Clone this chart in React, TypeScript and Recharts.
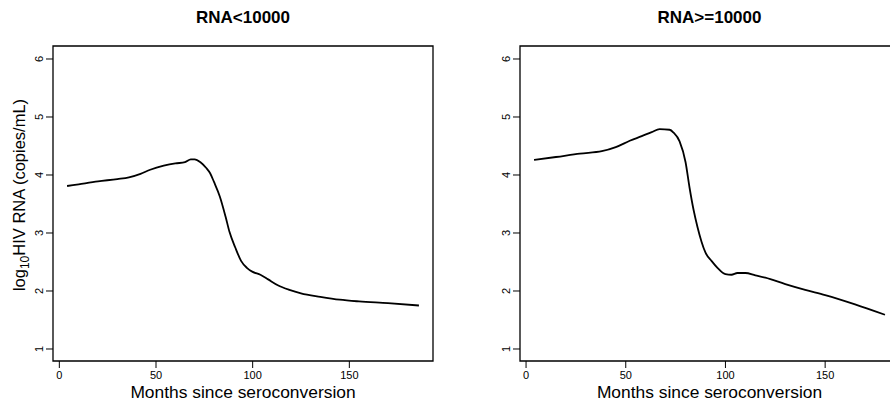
import { CartesianGrid, Line, LineChart, ReferenceArea, XAxis, YAxis } from "recharts";

// months since seroconversion / log10 RNA
const lowMonths = [4, 10, 20, 30, 36, 42, 47, 54, 60, 65, 68, 70, 73, 76, 78, 80, 83, 86, 88, 91, 94, 97, 100, 104, 108, 113, 119, 125, 135, 145, 155, 170, 186];
const lowRna = [3.81, 3.84, 3.89, 3.93, 3.96, 4.02, 4.09, 4.16, 4.2, 4.22, 4.27, 4.27, 4.22, 4.12, 4.03, 3.88, 3.63, 3.28, 3.02, 2.75, 2.52, 2.4, 2.33, 2.28, 2.2, 2.1, 2.02, 1.96, 1.9, 1.85, 1.82, 1.79, 1.75];

const highMonths = [4, 15, 27, 38, 45, 52, 58, 63, 67, 72, 74, 77, 80, 82, 84, 86, 88, 90, 93, 96, 100, 103, 106, 110, 115, 120, 130, 140, 150, 165, 180];
const highRna = [4.26, 4.31, 4.37, 4.41, 4.48, 4.59, 4.67, 4.74, 4.79, 4.78, 4.73, 4.58, 4.22, 3.78, 3.4, 3.1, 2.85, 2.66, 2.52, 2.4, 2.29, 2.28, 2.31, 2.31, 2.27, 2.23, 2.12, 2.02, 1.93, 1.77, 1.59];

const xTicks = [0, 50, 100, 150];
const yTicks = [1, 2, 3, 4, 5, 6];

const FONT = "'Liberation Sans', Arial, Helvetica, sans-serif";
const Y_DOMAIN: [number, number] = [0.793, 6.224];

// R style: 4% padding on the data range
function padDomain(xs: number[]): [number, number] {
  const lo = Math.min(...xs);
  const hi = Math.max(...xs);
  const pad = (hi - lo) * 0.04;
  return [lo - pad, hi + pad];
}

function RotatedTick(props: any) {
  const { x, y, payload } = props;
  return (
    <text
      x={x - 6.5}
      y={y}
      transform={`rotate(-90 ${x - 6.5} ${y})`}
      textAnchor="middle"
      dy="0.35em"
      fontSize={11}
      fontFamily={FONT}
      fill="#000"
    >
      {payload.value}
    </text>
  );
}

type PanelProps = {
  left: number;
  width: number;
  plotLeft: number;
  marginRight: number;
  months: number[];
  rna: number[];
  title: string;
  showYLabel?: boolean;
};

function Panel({ left, width, plotLeft, marginRight, months, rna, title, showYLabel }: PanelProps) {
  const data = months.map((m, i) => ({ m, v: rna[i] }));
  const xDomain = padDomain(months);
  const plotRight = width - marginRight;
  const center = (plotLeft + plotRight) / 2;

  return (
    <div style={{ position: "absolute", left, top: 0, width, height: 403 }}>
      <div
        style={{
          position: "absolute",
          left: center - 100,
          width: 200,
          top: 8,
          textAlign: "center",
          fontFamily: FONT,
          fontWeight: 700,
          fontSize: 17,
          lineHeight: "20px",
        }}
      >
        {title}
      </div>
      <LineChart
        width={width}
        height={403}
        data={data}
        margin={{ top: 46, right: marginRight, left: plotLeft - 20, bottom: 12 }}
      >
        <CartesianGrid stroke="none" />
        <XAxis
          type="number"
          dataKey="m"
          domain={xDomain}
          ticks={xTicks}
          interval={0}
          height={30}
          axisLine={false}
          tickLine={{ stroke: "#000", strokeWidth: 1 }}
          tickSize={7}
          tickMargin={3}
          tick={{ fontSize: 11, fill: "#000", fontFamily: FONT }}
        />
        <YAxis
          type="number"
          domain={Y_DOMAIN}
          ticks={yTicks}
          interval={0}
          width={20}
          axisLine={false}
          tickLine={{ stroke: "#000", strokeWidth: 1 }}
          tickSize={7}
          tickMargin={0}
          tick={<RotatedTick />}
        />
        <ReferenceArea
          x1={xDomain[0]}
          x2={xDomain[1]}
          y1={Y_DOMAIN[0]}
          y2={Y_DOMAIN[1]}
          fill="none"
          stroke="#000"
          strokeWidth={1.3}
          ifOverflow="visible"
        />
        <Line
          type="monotone"
          dataKey="v"
          stroke="#000"
          strokeWidth={1.8}
          dot={false}
          isAnimationActive={false}
        />
      </LineChart>
      <div
        style={{
          position: "absolute",
          left: center - 200,
          width: 400,
          top: 382,
          textAlign: "center",
          fontFamily: FONT,
          fontSize: 17.4,
          lineHeight: "20px",
        }}
      >
        Months since seroconversion
      </div>
      {showYLabel && (
        <div
          style={{
            position: "absolute",
            left: 19 - 150,
            top: 195 - 10,
            width: 300,
            height: 20,
            lineHeight: "20px",
            textAlign: "center",
            transform: "rotate(-90deg)",
            fontFamily: FONT,
            fontSize: 16.5,
            whiteSpace: "nowrap",
          }}
        >
          log<sub style={{ fontSize: 12, verticalAlign: "-4px" }}>10</sub>HIV RNA (copies/mL)
        </div>
      )}
    </div>
  );
}

export default function App() {
  return (
    <div
      style={{
        position: "fixed",
        left: 0,
        top: 0,
        width: 890,
        height: 403,
        overflow: "hidden",
        background: "#fff",
      }}
    >
      <Panel
        left={0}
        width={445}
        plotLeft={53}
        marginRight={12}
        months={lowMonths}
        rna={lowRna}
        title="RNA<10000"
        showYLabel
      />
      <Panel
        left={480}
        width={430}
        plotLeft={40}
        marginRight={11}
        months={highMonths}
        rna={highRna}
        title="RNA>=10000"
      />
    </div>
  );
}
